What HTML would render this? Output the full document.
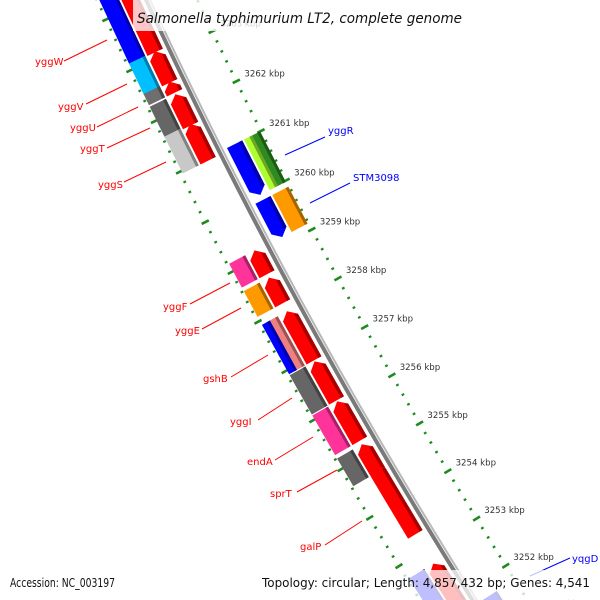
<!DOCTYPE html>
<html><head><meta charset="utf-8"><style>
html,body{margin:0;padding:0;background:#fff;}
svg{display:block;font-family:"DejaVu Sans","Liberation Sans",sans-serif;}
</style></head><body>
<svg id="map" width="600" height="600" viewBox="0 0 600 600" xmlns="http://www.w3.org/2000/svg">
<g id="rings"></g>
<g id="feats"></g>
<g id="labels"></g>
</svg>
<script>
// ---- data ----
const geneNames  = ["yggW","yggV","yggU","yggT","yggS","yggR","STM3098","yggF","yggE","gshB","yggI","endA","sprT","galP","geneX","yqgD"];
const geneStart  = [3263.1,3262.5,3262.3,3261.65,3260.95,3259.98,3259.13,3258.67,3258.08,3256.92,3256.1,3255.27,3254.63,3253.33,3250.5,3250.5];
const geneEnd    = [3264.5,3263.12,3262.52,3262.27,3261.68,3261.0,3259.88,3259.15,3258.6,3257.92,3256.9,3256.08,3255.2,3254.75,3252.72,3251.7];
const geneStrand = [-1,-1,-1,-1,-1,1,1,-1,-1,-1,-1,-1,-1,-1,-1,1];
const geneCog    = [["#0000ff"],["#00bfff"],["#6e6e6e"],["#666666"],["#c8c8c8"],["#adff2f","#2e8b22"],["#ff9900"],["#ff3399"],["#ff9900"],["#f08080","#0000ff"],["#666666"],["#ff3399"],["#666666"],[],["#0000ff"],[]];
const majorTicks = [3251,3252,3253,3254,3255,3256,3257,3258,3259,3260,3261,3262,3263,3264];
const tickLabels = ["3251 kbp","3252 kbp","3253 kbp","3254 kbp","3255 kbp","3256 kbp","3257 kbp","3258 kbp","3259 kbp","3260 kbp","3261 kbp","3262 kbp","3263 kbp","3264 kbp"];

// ---- geometry ----
const NS="http://www.w3.org/2000/svg";
const CX=4985, CY=-2243, R0=5332;
function ang(k){return (153.92+(k-3262)*0.601)*Math.PI/180;}
function pt(k,r){const a=ang(k);return [CX+r*Math.cos(a),CY+r*Math.sin(a)];}
function mk(tag,attrs,parent){const e=document.createElementNS(NS,tag);for(const a in attrs)e.setAttribute(a,attrs[a]);parent.appendChild(e);return e;}
function P(list){return list.map(p=>p[0].toFixed(2)+","+p[1].toFixed(2)).join(" ");}
function darker(hex){const n=parseInt(hex.slice(1),16);const f=0.65;
  const r=Math.round(((n>>16)&255)*f),g=Math.round(((n>>8)&255)*f),b=Math.round((n&255)*f);
  return "rgb("+r+","+g+","+b+")";}

const ringsG=document.getElementById('rings');
const featsG=document.getElementById('feats');
const labsG=document.getElementById('labels');

// backbone
function arcPath(r,k1,k2){let d="";for(let k=k1;k<=k2+1e-9;k+=0.25){const p=pt(k,r);d+=(d?"L":"M")+p[0].toFixed(2)+","+p[1].toFixed(2);}return d;}
const bb=mk('path',{d:arcPath(R0+1.5,3250,3265.5),fill:'none',stroke:'#7a7a7a','stroke-width':4},ringsG);


const bb2=mk('path',{d:arcPath(R0-2.2,3250,3265.5),fill:'none',stroke:'#b8b8b8','stroke-width':2},ringsG);



// tick rings
const RIN=R0-45, ROUT=R0+46;
[RIN,ROUT].forEach((r)=>{
  for(let i=0;i<=77;i++){
    const k=3250+i*0.2; const major=Math.abs(k-Math.round(k))<1e-6;
    const L=major?4:1.4;
    const a=pt(k,r-L),b=pt(k,r+L);
    const t=mk('line',{x1:a[0],y1:a[1],x2:b[0],y2:b[1],stroke:'#1f8a1f','stroke-width':major?2.6:2.2},ringsG);
    
    
  }
});
majorTicks.forEach((k,i)=>{
  const p=pt(k,RIN-9);
  const t=mk('text',{x:p[0],y:p[1]-1,'font-size':8.6,fill:'#333'},ringsG);
  t.textContent=tickLabels[i];
  
  
});

// features
function strip(k1,k2,ra,rb,fill,name){
  const e=mk('polygon',{points:P([pt(k1,ra),pt(k2,ra),pt(k2,rb),pt(k1,rb)]),fill:fill},featsG);
  
  
  return e;}
function arrow(k1,k2,ra,rb,strand,fill,name){
  const h=0.13, rm=(ra+rb)/2; let pts;
  if(strand<0) pts=[pt(k1,ra),pt(k2-h,ra),pt(k2,rm),pt(k2-h,rb),pt(k1,rb)];
  else pts=[pt(k2,ra),pt(k1+h,ra),pt(k1,rm),pt(k1+h,rb),pt(k2,rb)];
  const e=mk('polygon',{points:P(pts),fill:fill},featsG);
  
  
  let pts2;
  if(strand<0) pts2=[pt(k1,ra),pt(k2-h,ra),pt(k2-h*0.8,ra+3.5),pt(k1,ra+3.5)];
  else pts2=[pt(k2,ra),pt(k1+h,ra),pt(k1+h*0.8,ra+3.5),pt(k2,ra+3.5)];
  const s=mk('polygon',{points:P(pts2),fill:darker(fill)},featsG);
  
  
}
geneNames.forEach((g,i)=>{
  const k1=geneStart[i],k2=geneEnd[i],s=geneStrand[i];
  const col=s<0?"#ff0000":"#0000ff";
  if(s<0) arrow(k1,k2,R0+7,R0+24,s,col,'gene-'+g);
  else arrow(k1,k2,R0-24,R0-7,s,col,'gene-'+g);
  const cogs=geneCog[i];
  if(cogs.length){
    const lo=s<0?R0+26:R0-44, hi=s<0?R0+44:R0-26;
    const w=(hi-lo)/cogs.length;
    cogs.forEach((c,j)=>{
      let a,b;
      if(s<0){a=lo+j*w;b=a+w;}else{b=hi-j*w;a=b-w;}
      strip(k1,k2,a,b,c,'cog-'+g);
      strip(k1,k2,a,a+3,darker(c),'cog-shade-'+g);
    });
  }
});

// gene labels
const labelText=["yggW","yggV","yggU","yggT","yggS","yggR","STM3098","yggF","yggE","gshB","yggI","endA","sprT","galP","yqgD"];
const labelX=[35,58,70,80,98,328,353,163,175,203,230,247,270,300,572];
const labelY=[65,110,131,152,188,134,181,310,334,382,425,465,497,550,562];
const labelCol=["red","red","red","red","red","blue","blue","red","red","red","red","red","red","red","blue"];
const lineX1=[64,86,97,107,124,285,310,190,202,231,258,275,297,325,530];
const lineY1=[61,104,127,148,182,155,203,304,329,377,420,460,492,545,576];
const lineX2=[107,127,138,150,166,325,350,230,241,268,292,313,337,362,570];
const lineY2=[40,84,107,128,162,137,183,283,308,355,398,437,470,521,558];
labelText.forEach((t,i)=>{
  const c=labelCol[i]==="red"?"#ff0000":"#0000ff";
  const l=mk('line',{x1:lineX1[i],y1:lineY1[i],x2:lineX2[i],y2:lineY2[i],stroke:c,'stroke-width':1},labsG);
  
  
  const e=mk('text',{x:labelX[i],y:labelY[i],'font-size':10,fill:c},labsG);
  e.textContent=t;
  
  
});

// overlays
const titleBox=mk('rect',{x:133,y:0,width:333,height:31,fill:'#fff','fill-opacity':0.78},labsG);


const titleText=mk('text',{x:137,y:23,'font-size':14,'font-style':'italic',fill:'#111',textLength:325,lengthAdjust:'spacingAndGlyphs'},labsG);
titleText.textContent="Salmonella typhimurium LT2, complete genome";


const accBox=mk('rect',{x:6,y:570,width:114,height:30,fill:'#fff','fill-opacity':0.75},labsG);


const topoBox=mk('rect',{x:258,y:570,width:338,height:30,fill:'#fff','fill-opacity':0.75},labsG);


const accText=mk('text',{x:10,y:587,'font-size':12.5,fill:'#111',textLength:105,lengthAdjust:'spacingAndGlyphs'},labsG);
accText.textContent="Accession: NC_003197";


const topoText=mk('text',{x:262,y:587,'font-size':12.5,fill:'#111',textLength:328,lengthAdjust:'spacingAndGlyphs'},labsG);
topoText.textContent="Topology: circular; Length: 4,857,432 bp; Genes: 4,541";


</script>
</body></html>
